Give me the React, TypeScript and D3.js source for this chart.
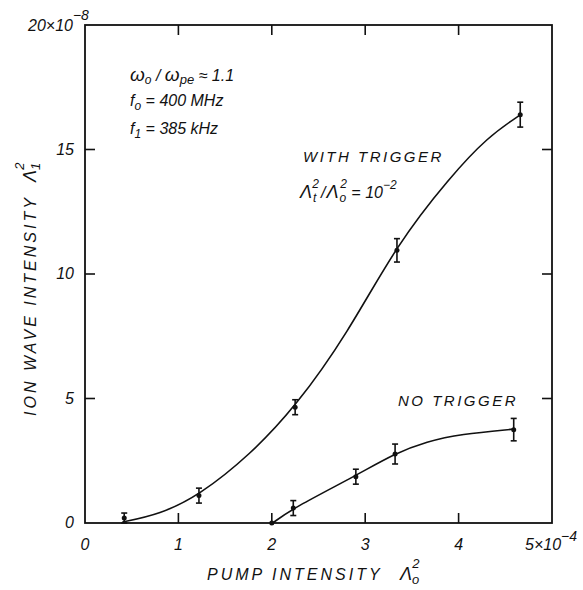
import React from "react";
import * as d3 from "d3";

const xTicks = [0, 1, 2, 3, 4, 5];
const xTickLabels = ["0", "1", "2", "3", "4", ""];
const yTicks = [0, 5, 10, 15, 20];
const yTickLabels = ["0", "5", "10", "15", ""];

// measured points with error bars
const trigX = [0.42, 1.22, 2.25, 3.34, 4.66];
const trigY = [0.2, 1.1, 4.65, 10.95, 16.4];
const trigErr = [0.2, 0.3, 0.3, 0.47, 0.5];

const noX = [2.0, 2.23, 2.9, 3.32, 4.59];
const noY = [0, 0.6, 1.86, 2.77, 3.75];
const noErr = [0, 0.3, 0.3, 0.4, 0.45];

// hand-drawn fit curves
const trigCurveX = [0.4, 0.8, 1.22, 1.77, 2.25, 2.81, 3.34, 3.91, 4.31, 4.66];
const trigCurveY = [0.04, 0.35, 1.1, 2.75, 4.65, 7.6, 11.2, 13.9, 15.5, 16.39];
const noCurveX = [2.01, 2.23, 2.9, 3.32, 3.66, 4.02, 4.59];
const noCurveY = [0, 0.6, 1.9, 2.8, 3.27, 3.57, 3.77];

const W = 583;
const H = 590;
const M = { left: 85, right: 552, top: 25, bottom: 523 };
const FONT = "'Liberation Sans', Arial, sans-serif";

export default function App() {
  const x = d3.scaleLinear().domain([0, 5]).range([M.left, M.right]);
  const y = d3.scaleLinear().domain([0, 20]).range([M.bottom, M.top]);
  const line = d3
    .line<[number, number]>()
    .x((d) => x(d[0]))
    .y((d) => y(d[1]))
    .curve(d3.curveBasis);

  const trigCurve = line(trigCurveX.map((v, i) => [v, trigCurveY[i]] as [number, number])) || "";
  const noCurve = line(noCurveX.map((v, i) => [v, noCurveY[i]] as [number, number])) || "";
  const tick = 10;
  const ink = "#111";

  const points = (xs: number[], ys: number[], es: number[], key: string) =>
    xs.map((xv, i) => {
      const cx = x(xv);
      const cy = y(ys[i]);
      const e = es[i];
      return (
        <g key={key + i}>
          {e > 0 && (
            <g stroke={ink} strokeWidth={1.6}>
              <line x1={cx} x2={cx} y1={y(ys[i] - e)} y2={y(ys[i] + e)} />
              <line x1={cx - 3} x2={cx + 3} y1={y(ys[i] - e)} y2={y(ys[i] - e)} />
              <line x1={cx - 3} x2={cx + 3} y1={y(ys[i] + e)} y2={y(ys[i] + e)} />
            </g>
          )}
          <circle cx={cx} cy={cy} r={2.5} fill={ink} />
        </g>
      );
    });

  const textStyle = { fontFamily: FONT, fontStyle: "italic" as const, fill: ink };

  return (
    <svg
      width={W}
      height={H}
      style={{ position: "absolute", left: 0, top: 0, background: "#fff" }}
    >
      <rect x={0} y={0} width={W} height={H} fill="#fff" />
      {/* frame */}
      <rect
        x={M.left}
        y={M.top}
        width={M.right - M.left}
        height={M.bottom - M.top}
        fill="none"
        stroke={ink}
        strokeWidth={1.8}
      />
      {/* ticks */}
      {xTicks.slice(1, 5).map((t) => (
        <g key={"xt" + t} stroke={ink} strokeWidth={1.6}>
          <line x1={x(t)} x2={x(t)} y1={M.bottom} y2={M.bottom - tick} />
          <line x1={x(t)} x2={x(t)} y1={M.top} y2={M.top + tick} />
        </g>
      ))}
      {yTicks.slice(1, 4).map((t) => (
        <g key={"yt" + t} stroke={ink} strokeWidth={1.6}>
          <line x1={M.left} x2={M.left + tick} y1={y(t)} y2={y(t)} />
          <line x1={M.right} x2={M.right - tick} y1={y(t)} y2={y(t)} />
        </g>
      ))}
      {/* x tick labels */}
      {xTicks.map((t, i) =>
        xTickLabels[i] ? (
          <text key={"xl" + t} x={x(t)} y={550} textAnchor="middle" fontSize={16} {...textStyle}>
            {xTickLabels[i]}
          </text>
        ) : null
      )}
      <text x={525} y={550} fontSize={16} {...textStyle}>
        5×10
        <tspan dy={-9} fontSize={14}>−4</tspan>
      </text>
      {/* y tick labels */}
      {yTicks.map((t, i) =>
        yTickLabels[i] ? (
          <text key={"yl" + t} x={74} y={y(t) + 5} textAnchor="end" fontSize={16} {...textStyle}>
            {yTickLabels[i]}
          </text>
        ) : null
      )}
      <text x={28} y={31} fontSize={16} {...textStyle}>
        20×10
        <tspan dy={-11} fontSize={14}>−8</tspan>
      </text>

      {/* curves */}
      <path d={trigCurve} fill="none" stroke={ink} strokeWidth={1.6} />
      <path d={noCurve} fill="none" stroke={ink} strokeWidth={1.6} />
      {points(trigX, trigY, trigErr, "t")}
      {points(noX, noY, noErr, "n")}

      {/* axis titles */}
      <text x={207} y={580} fontSize={16} letterSpacing={3} {...textStyle}>
        PUMP INTENSITY
      </text>
      <text x={400} y={580} fontSize={18} {...textStyle}>
        Λ<tspan dy={4} fontSize={13}>o</tspan>
        <tspan dx={-7} dy={-16} fontSize={13}>2</tspan>
      </text>
      <g transform="translate(36,416) rotate(-90)">
        <text x={0} y={0} fontSize={16} letterSpacing={3} {...textStyle}>
          ION WAVE INTENSITY
        </text>
        <text x={234} y={0} fontSize={18} {...textStyle}>
          Λ<tspan dy={4} fontSize={13}>1</tspan>
          <tspan dx={-7} dy={-16} fontSize={13}>2</tspan>
        </text>
      </g>

      {/* annotations */}
      <text x={130} y={81} fontSize={16} {...textStyle}>
        <tspan fontSize={19}>ω</tspan>
        <tspan dy={3} fontSize={12}>o</tspan>
        <tspan dy={-3}> / </tspan>
        <tspan fontSize={19}>ω</tspan>
        <tspan dy={3} fontSize={13}>pe</tspan>
        <tspan dy={-3}> ≈ 1.1</tspan>
      </text>
      <text x={130} y={106} fontSize={16} {...textStyle}>
        f<tspan dy={4} fontSize={12}>o</tspan>
        <tspan dy={-4}> = 400 MHz</tspan>
      </text>
      <text x={130} y={134} fontSize={16} {...textStyle}>
        f<tspan dy={4} fontSize={12}>1</tspan>
        <tspan dy={-4}> = 385 kHz</tspan>
      </text>
      <text x={303} y={162} fontSize={15} letterSpacing={2.5} {...textStyle}>
        WITH TRIGGER
      </text>
      <text x={300} y={198} fontSize={16} {...textStyle}>
        <tspan fontSize={18}>Λ</tspan>
        <tspan dx={1} dy={4} fontSize={12}>t</tspan>
        <tspan dx={-4} dy={-14} fontSize={12}>2</tspan>
        <tspan dx={2} dy={10}>/</tspan>
        <tspan dx={1} fontSize={18}>Λ</tspan>
        <tspan dx={1} dy={4} fontSize={12}>o</tspan>
        <tspan dx={-6} dy={-14} fontSize={12}>2</tspan>
        <tspan dy={10}> = 10</tspan>
        <tspan dy={-9} fontSize={12}>−2</tspan>
      </text>
      <text x={398} y={406} fontSize={15} letterSpacing={2.5} {...textStyle}>
        NO TRIGGER
      </text>
    </svg>
  );
}
